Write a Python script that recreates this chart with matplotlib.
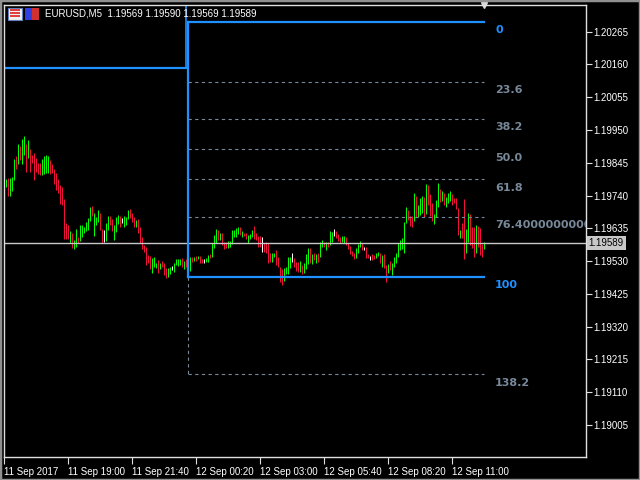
import numpy as np
import pandas as pd
import matplotlib
matplotlib.use("Agg")
import matplotlib.pyplot as plt
from matplotlib.patches import Rectangle
import matplotlib.transforms as mtransforms

plt.rcParams["font.family"] = ["Liberation Sans", "DejaVu Sans"]

# ---- data (EURUSD M5) ----
start_time = "2017-09-11 16:25"

highs = [
    1.19793, 1.19797, 1.19797, 1.19800, 1.19857, 1.19867, 1.19905, 1.19899, 1.19921, 1.19931,
    1.19905, 1.19918, 1.19889, 1.19870, 1.19877, 1.19861, 1.19845, 1.19845, 1.19857, 1.19867,
    1.19870, 1.19867, 1.19854, 1.19841, 1.19825, 1.19813, 1.19793, 1.19774, 1.19768, 1.19729,
    1.19653, 1.19646, 1.19627, 1.19621, 1.19598, 1.19633, 1.19608, 1.19646, 1.19646, 1.19640,
    1.19656, 1.19669, 1.19704, 1.19707, 1.19685, 1.19672, 1.19694, 1.19685, 1.19633, 1.19630,
    1.19653, 1.19675, 1.19675, 1.19665, 1.19646, 1.19672, 1.19678, 1.19675, 1.19669, 1.19675,
    1.19672, 1.19694, 1.19697, 1.19685, 1.19672, 1.19662, 1.19665, 1.19640, 1.19608, 1.19582,
    1.19576, 1.19550, 1.19547, 1.19541, 1.19544, 1.19525, 1.19534, 1.19525, 1.19531, 1.19525,
    1.19509, 1.19509, 1.19512, 1.19515, 1.19525, 1.19537, 1.19537, 1.19537, 1.19541, 1.19531,
    1.19537, 1.19557, 1.19544, 1.19544, 1.19544, 1.19547, 1.19547, 1.19547, 1.19537, 1.19537,
    1.19541, 1.19550, 1.19553, 1.19589, 1.19614, 1.19633, 1.19630, 1.19621, 1.19621, 1.19592,
    1.19592, 1.19595, 1.19595, 1.19630, 1.19630, 1.19637, 1.19640, 1.19640, 1.19627, 1.19621,
    1.19621, 1.19614, 1.19617, 1.19630, 1.19643, 1.19621, 1.19611, 1.19611, 1.19608, 1.19589,
    1.19592, 1.19589, 1.19557, 1.19557, 1.19557, 1.19566, 1.19544, 1.19512, 1.19505, 1.19509,
    1.19512, 1.19544, 1.19544, 1.19557, 1.19541, 1.19528, 1.19528, 1.19531, 1.19518, 1.19525,
    1.19553, 1.19573, 1.19573, 1.19553, 1.19557, 1.19553, 1.19557, 1.19592, 1.19598, 1.19592,
    1.19592, 1.19592, 1.19627, 1.19624, 1.19633, 1.19627, 1.19617, 1.19608, 1.19611, 1.19611,
    1.19608, 1.19589, 1.19579, 1.19563, 1.19557, 1.19573, 1.19585, 1.19595, 1.19589, 1.19576,
    1.19576, 1.19553, 1.19547, 1.19553, 1.19550, 1.19557, 1.19560, 1.19557, 1.19550, 1.19553,
    1.19518, 1.19521, 1.19531, 1.19525, 1.19544, 1.19557, 1.19589, 1.19598, 1.19605, 1.19656,
    1.19704, 1.19694, 1.19675, 1.19675, 1.19749, 1.19739, 1.19710, 1.19733, 1.19739, 1.19736,
    1.19777, 1.19774, 1.19745, 1.19717, 1.19681, 1.19726, 1.19781, 1.19761, 1.19755, 1.19749,
    1.19736, 1.19749, 1.19755, 1.19745, 1.19733, 1.19733, 1.19701, 1.19630, 1.19653, 1.19729,
    1.19633, 1.19685, 1.19681, 1.19640, 1.19640, 1.19646, 1.19643, 1.19637, 1.19585, 1.19592,
]

lows = [
    1.19768, 1.19739, 1.19739, 1.19755, 1.19790, 1.19825, 1.19841, 1.19854, 1.19841, 1.19870,
    1.19816, 1.19861, 1.19816, 1.19845, 1.19790, 1.19816, 1.19809, 1.19806, 1.19806, 1.19809,
    1.19813, 1.19813, 1.19809, 1.19813, 1.19777, 1.19758, 1.19749, 1.19713, 1.19710, 1.19601,
    1.19601, 1.19601, 1.19589, 1.19573, 1.19569, 1.19576, 1.19589, 1.19595, 1.19608, 1.19621,
    1.19627, 1.19630, 1.19659, 1.19675, 1.19611, 1.19646, 1.19656, 1.19630, 1.19589, 1.19592,
    1.19595, 1.19630, 1.19646, 1.19627, 1.19598, 1.19624, 1.19649, 1.19640, 1.19653, 1.19640,
    1.19646, 1.19665, 1.19669, 1.19656, 1.19640, 1.19640, 1.19621, 1.19589, 1.19569, 1.19560,
    1.19518, 1.19525, 1.19505, 1.19493, 1.19512, 1.19509, 1.19493, 1.19505, 1.19512, 1.19486,
    1.19477, 1.19480, 1.19489, 1.19502, 1.19496, 1.19518, 1.19515, 1.19518, 1.19512, 1.19505,
    1.19512, 1.19493, 1.19499, 1.19528, 1.19531, 1.19531, 1.19537, 1.19525, 1.19525, 1.19525,
    1.19528, 1.19528, 1.19541, 1.19544, 1.19573, 1.19589, 1.19598, 1.19598, 1.19582, 1.19569,
    1.19573, 1.19573, 1.19576, 1.19585, 1.19608, 1.19608, 1.19617, 1.19614, 1.19608, 1.19611,
    1.19601, 1.19589, 1.19601, 1.19608, 1.19601, 1.19598, 1.19576, 1.19576, 1.19560, 1.19560,
    1.19557, 1.19525, 1.19528, 1.19528, 1.19544, 1.19518, 1.19512, 1.19464, 1.19454, 1.19467,
    1.19489, 1.19489, 1.19509, 1.19528, 1.19512, 1.19499, 1.19496, 1.19496, 1.19489, 1.19493,
    1.19505, 1.19521, 1.19525, 1.19521, 1.19534, 1.19525, 1.19528, 1.19544, 1.19576, 1.19576,
    1.19566, 1.19576, 1.19582, 1.19592, 1.19611, 1.19605, 1.19595, 1.19589, 1.19592, 1.19589,
    1.19582, 1.19569, 1.19553, 1.19547, 1.19537, 1.19541, 1.19557, 1.19576, 1.19566, 1.19566,
    1.19541, 1.19541, 1.19534, 1.19534, 1.19537, 1.19541, 1.19547, 1.19525, 1.19512, 1.19509,
    1.19464, 1.19493, 1.19502, 1.19486, 1.19512, 1.19525, 1.19544, 1.19566, 1.19569, 1.19557,
    1.19653, 1.19662, 1.19643, 1.19640, 1.19659, 1.19672, 1.19672, 1.19678, 1.19685, 1.19672,
    1.19681, 1.19710, 1.19675, 1.19659, 1.19649, 1.19672, 1.19704, 1.19720, 1.19723, 1.19710,
    1.19704, 1.19717, 1.19723, 1.19710, 1.19717, 1.19697, 1.19614, 1.19605, 1.19605, 1.19537,
    1.19557, 1.19592, 1.19582, 1.19573, 1.19544, 1.19557, 1.19576, 1.19550, 1.19544, 1.19569,
]

# g = bull, r = bear, w = doji
directions = (
    "grgggrgrgg" "rgrrrrrrgg" "ggrrrrrrrr" "rrgrggrggg" "gggrgggrrw"
    "ggrrgggrwg" "ggrrrgrrrr" "rrrgggrgrr" "rggwggggrg" "rrgrgrgrrw"
    "ggrgggrgrr" "rggggggrgr" "rgggrrrrwr" "rrrggrrrrg" "gggwrrrgrg"
    "ggrgrgrggr" "grggwrrrgg" "rrrrrgggrw" "rrwrrggrgr" "rgrggggggg"
    "grrrgrgggr" "grrrgggrgr" "gggrrrrgrr" "ggrrrgrrrg"
)

last_ohlc = [1.19569, 1.19590, 1.19569, 1.19589]
bid = 1.19589

price_ticks = [1.19005, 1.19110, 1.19215, 1.19320, 1.19425, 1.19530, 1.19635,
               1.19740, 1.19845, 1.19950, 1.20055, 1.20160, 1.20265]

tick_times = ["2017-09-11 16:20", "2017-09-11 19:00", "2017-09-11 21:40", "2017-09-12 00:20",
              "2017-09-12 03:00", "2017-09-12 05:40", "2017-09-12 08:20", "2017-09-12 11:00"]
tick_labels = ["11 Sep 2017", "11 Sep 19:00", "11 Sep 21:40", "12 Sep 00:20",
               "12 Sep 03:00", "12 Sep 05:40", "12 Sep 08:20", "12 Sep 11:00"]

# blue trend line on the left
trend_price = 1.20149
trend_end = "2017-09-11 23:55"

# fibonacci retracement
fib_high = 1.20297
fib_low = 1.19480
fib_start = "2017-09-12 00:00"
fib_end = "2017-09-12 12:20"
fib_levels = [0, 23.6, 38.2, 50.0, 61.8, 76.4, 100, 138.2]
fib_texts = ["0", "23.6", "38.2", "50.0", "61.8", "76.4000000000", "100", "138.2"]

# ---- colours ----
BULL = "#00FF00"
BEAR = "#F0103C"
DOJI = "#FFFFFF"
BLUE = "#1E90FF"
FIBGREY = "#778899"

t0 = pd.Timestamp(start_time)
step = pd.Timedelta("5min")


def idx(t):
    return (pd.Timestamp(t) - t0) / step


n = len(highs)
x = np.arange(n)
colors = [{"g": BULL, "r": BEAR, "w": DOJI}[d] for d in directions]

fig = plt.figure(figsize=(6.4, 4.8), dpi=100, facecolor="black")
ax = fig.add_axes([4 / 640, 23 / 480, 582 / 640, 452 / 480])
ax.set_facecolor("black")

ax.set_xlim(-1, 290)
ax.set_ylim(1.189026, 1.203506)

# bars
ax.vlines(x, lows, highs, colors=colors, linewidth=0.75)

# bid line
ax.axhline(bid, color="#C8C8C8", linewidth=1)

# trend line
te = idx(trend_end)
ax.plot([-1, te], [trend_price, trend_price], color=BLUE, linewidth=1.6)
ax.plot([te, te], [trend_price, 1.203506], color=BLUE, linewidth=1.2)

# fibonacci
fs, fe = idx(fib_start), idx(fib_end)
rng = fib_high - fib_low
lvl_prices = [fib_high - lv / 100 * rng for lv in fib_levels]
ax.plot([fs, fs], [fib_high, fib_low], color=BLUE, linewidth=1.6)
ax.plot([fs, fs], [fib_low, lvl_prices[-1]], color=FIBGREY, linewidth=0.8, linestyle=(0, (3, 3)))
for lv, p, txt in zip(fib_levels, lvl_prices, fib_texts):
    if lv in (0, 100):
        ax.plot([fs, fe], [p, p], color=BLUE, linewidth=1.6)
        c = BLUE
    else:
        ax.plot([fs, fe], [p, p], color=FIBGREY, linewidth=0.8, linestyle=(0, (3, 3)))
        c = FIBGREY
    ax.annotate(txt, xy=(fe, p), xytext=(8, -6), textcoords="offset points",
                ha="left", va="center", color=c, fontsize=8, fontweight="bold",
                family="DejaVu Sans", annotation_clip=False, clip_on=True)

# chart shift marker
ax.plot([fe], [1.203506], marker="v", color="#D8D8D8", markersize=5, clip_on=False)

# axes styling
for s in ax.spines.values():
    s.set_color("#E0E0E0")
    s.set_linewidth(1)

ax.set_yticks(price_ticks)
ax.set_yticklabels([f"{p:.5f}" for p in price_ticks])
ax.tick_params(axis="y", left=False, right=True, labelleft=False, labelright=True,
               direction="out", length=4, colors="#E0E0E0", labelsize=7, pad=1)
for lab in ax.get_yticklabels():
    lab.set_color("white")

ax.set_xticks([idx(t) for t in tick_times])
ax.set_xticklabels(tick_labels)
ax.tick_params(axis="x", direction="out", length=5, colors="#E0E0E0", labelsize=7, pad=2)
for lab in ax.get_xticklabels():
    lab.set_horizontalalignment("left")
    lab.set_color("white")

# bid price label
trans = mtransforms.blended_transform_factory(ax.transAxes, ax.transData)
ax.annotate(f"{bid:.5f}", xy=(1, bid), xycoords=trans, xytext=(2, 0), textcoords="offset points",
            ha="left", va="center", color="black", fontsize=7,
            bbox=dict(boxstyle="square,pad=0.2", facecolor="#C8C8C8", edgecolor="none"))

# header
fig.text(45 / 640, 1 - 14 / 480,
         "EURUSD,M5  " + " ".join(f"{v:.5f}" for v in last_ohlc),
         color="white", fontsize=7, va="center", ha="left")
fig.add_artist(Rectangle((8 / 640, 1 - 20 / 480), 14 / 640, 12 / 480, transform=fig.transFigure,
                         facecolor="#F0F0F0", edgecolor="#6080C0", linewidth=0.8))
for k in range(3):
    fig.add_artist(Rectangle((10 / 640, 1 - (17 - 3 * k) / 480), 10 / 640, 1.5 / 480,
                             transform=fig.transFigure, facecolor="#E04040", edgecolor="none"))
fig.add_artist(Rectangle((25 / 640, 1 - 20 / 480), 7 / 640, 12 / 480, transform=fig.transFigure,
                         facecolor="#3040E0", edgecolor="none"))
fig.add_artist(Rectangle((32 / 640, 1 - 20 / 480), 7 / 640, 12 / 480, transform=fig.transFigure,
                         facecolor="#D03030", edgecolor="none"))

# window border
fig.add_artist(Rectangle((0, 0), 1, 1, transform=fig.transFigure, fill=False,
                         edgecolor="#909090", linewidth=2.5))

fig.savefig("out.png", dpi=100, facecolor="black")
